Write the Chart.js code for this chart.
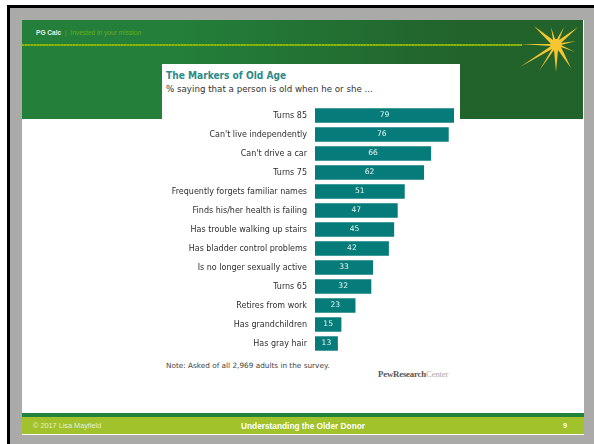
<!DOCTYPE html>
<html>
<head>
<meta charset="utf-8">
<title>The Markers of Old Age</title>
<script src="https://cdn.jsdelivr.net/npm/chart.js@4"></script>
<style>
  html, body { margin: 0; padding: 0; background: #fff; }
  #stage { position: relative; width: 594px; height: 444px; overflow: hidden; font-family: "Liberation Sans", Arial, sans-serif; }
  #stage div, #stage svg, #stage canvas { position: absolute; }
  .frame { left: 7px; top: 5px; width: 587px; height: 439px; background: #aaaaa8; border-left: 3px solid #000; border-top: 3px solid #000; box-sizing: border-box; }
  .slide { left: 22px; top: 20px; width: 562px; height: 415px; background: #fff; }
  .header { left: 22px; top: 20px; width: 561px; height: 99px; background: linear-gradient(90deg, #237f3a 0%, #237f3a 28%, #22622b 80%, #22622b 100%); }
  .rule { left: 22px; top: 44px; width: 500px; height: 2px; background: repeating-linear-gradient(90deg, #8fb800 0 2px, #6f9f12 2px 3px); }
  .brand { left: 36px; top: 28px; font-size: 6.6px; line-height: 9px; white-space: nowrap; color: #67ae1c; }
  .brand b { color: #e4efe4; }
  .panel { left: 162px; top: 64px; width: 298px; height: 60px; background: #fff; }
  .title { left: 166px; top: 69px; font: bold 10.1px/13px "DejaVu Sans Condensed", "DejaVu Sans", sans-serif; font-stretch: condensed; color: #2c8a88; white-space: nowrap; }
  .subtitle { left: 166px; top: 83px; font: 8.7px/12px "DejaVu Sans", sans-serif; color: #333; white-space: nowrap; }
  .note { left: 166px; top: 361px; font: 7.3px/10px "DejaVu Sans", sans-serif; color: #444; white-space: nowrap; }
  .pew { left: 378px; top: 369px; font: bold 8.8px/10px "Liberation Serif", serif; color: #555; white-space: nowrap; letter-spacing: -0.2px; }
  .pew span { color: #aaa; font-weight: normal; }
  .band { left: 22px; top: 413px; width: 562px; height: 4px; background: #22843a; }
  .foot { left: 22px; top: 417px; width: 562px; height: 17px; background: #a1c22a; }
  .foot-text { top: 421px; font-size: 7.3px; line-height: 10px; white-space: nowrap; color: #e9f0cf; }
  .foot-title { top: 421px; left: 241px; font-size: 8.3px; font-weight: bold; line-height: 10px; white-space: nowrap; color: #fff; }
</style>
</head>
<body>
<div id="stage">
  <div class="frame"></div>
  <div class="slide"></div>
  <div class="header"></div>
  <div class="rule"></div>
  <svg width="594" height="444" style="left:0;top:0">
    <polygon fill="#f5c62f" points="520,44 551,44 534,26 553,40 551,27 555,39 557,39 564,27 559,40 578,27 561,43 576,41 561,45 575,52 561,47 571,68 558,50 556,72 554,50 539,71 552,49 520,67 551,46"/>
    <circle cx="556" cy="45" r="5.5" fill="#f5c62f"/>
  </svg>
  <div class="brand"><b>PG Calc</b>&nbsp; | &nbsp;Invested in your mission</div>
  <div class="panel"></div>
  <div class="title">The Markers of Old Age</div>
  <div class="subtitle">% saying that a person is old when he or she ...</div>
  <canvas id="chart" width="292" height="247" style="left:162px;top:106px"></canvas>
  <div class="note">Note: Asked of all 2,969 adults in the survey.</div>
  <div class="pew">PewResearch<span>Center</span></div>
  <div class="band"></div>
  <div class="foot"></div>
  <div class="foot-text" style="left:33px">© 2017 Lisa Mayfield</div>
  <div class="foot-title">Understanding the Older Donor</div>
  <div class="foot-text" style="left:563px;font-weight:bold;color:#fff">9</div>
</div>
<script>
const categories = [
  "Turns 85", "Can't live independently", "Can't drive a car", "Turns 75",
  "Frequently forgets familiar names", "Finds his/her health is failing",
  "Has trouble walking up stairs", "Has bladder control problems",
  "Is no longer sexually active", "Turns 65", "Retires from work",
  "Has grandchildren", "Has gray hair"
];
const shares = [79, 76, 66, 62, 51, 47, 45, 42, 33, 32, 23, 15, 13];

// Writes each share in white at the middle of its bar.
const barValues = {
  id: "barValues",
  afterDatasetsDraw(chart) {
    const { ctx } = chart;
    ctx.save();
    ctx.font = '7.6px "DejaVu Sans", sans-serif';
    ctx.fillStyle = "#e8f4f3";
    ctx.textAlign = "center";
    ctx.textBaseline = "middle";
    chart.getDatasetMeta(0).data.forEach((bar, i) => {
      ctx.fillText(shares[i], (bar.x + bar.base) / 2, bar.y);
    });
    ctx.restore();
  }
};

new Chart(document.getElementById("chart"), {
  type: "bar",
  data: {
    labels: categories,
    datasets: [{
      data: shares,
      backgroundColor: "#067c7a",
      categoryPercentage: 1,
      barPercentage: 0.76
    }]
  },
  options: {
    indexAxis: "y",
    responsive: false,
    animation: false,
    layout: { padding: 0 },
    plugins: { legend: { display: false }, tooltip: { enabled: false } },
    scales: {
      x: { display: false, min: 0, max: 79 },
      y: {
        grid: { display: false, drawTicks: false },
        border: { display: false },
        // Fixed gutter for the labels, with the bars using the full height.
        afterFit(axis) {
          axis.width = 153;
          axis.paddingTop = 0;
          axis.paddingBottom = 0;
        },
        ticks: {
          padding: 8,
          autoSkip: false,
          color: "#2e2e2e",
          font: { family: '"DejaVu Sans", sans-serif', size: 8 }
        }
      }
    }
  },
  plugins: [barValues]
});
</script>
</body>
</html>
